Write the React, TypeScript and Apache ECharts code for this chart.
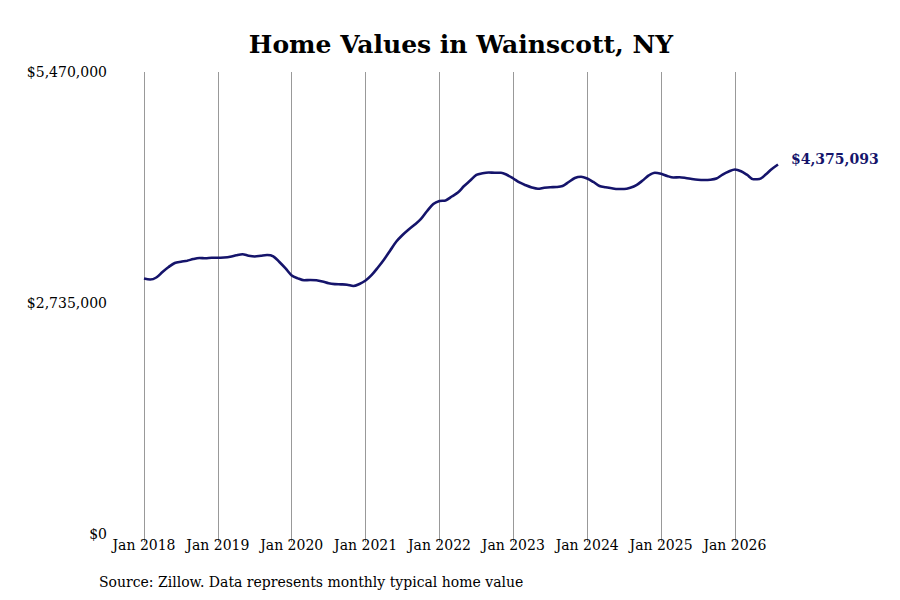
import React, { useEffect, useRef } from "react";
import * as echarts from "echarts";

const years = [2018, 2019, 2020, 2021, 2022, 2023, 2024, 2025, 2026];
const monthNames = ["Jan", "Feb", "Mar", "Apr", "May", "Jun", "Jul", "Aug", "Sep", "Oct", "Nov", "Dec"];

const homeValues = [
  3025000, 3013000, 3037000, 3102000, 3161000, 3209000, 3224000, 3235000, 3256000, 3268000, 3264000, 3270000,
  3270000, 3274000, 3283000, 3300000, 3312000, 3295000, 3286000, 3295000, 3303000, 3288000, 3220000, 3144000,
  3061000, 3027000, 3004000, 3007000, 3005000, 2990000, 2968000, 2958000, 2956000, 2952000, 2936000, 2960000,
  3001000, 3067000, 3155000, 3250000, 3357000, 3463000, 3540000, 3605000, 3664000, 3730000, 3824000, 3907000,
  3943000, 3949000, 3996000, 4043000, 4120000, 4185000, 4251000, 4271000, 4280000, 4277000, 4277000, 4251000,
  4209000, 4162000, 4130000, 4103000, 4088000, 4099000, 4106000, 4108000, 4120000, 4168000, 4215000, 4230000,
  4209000, 4168000, 4120000, 4105000, 4093000, 4085000, 4085000, 4100000, 4130000, 4185000, 4245000, 4278000,
  4265000, 4239000, 4221000, 4223000, 4215000, 4203000, 4194000, 4191000, 4194000, 4209000, 4256000, 4292000,
  4316000, 4295000, 4251000, 4200000, 4203000, 4256000, 4322000, 4375093,
];

const categories: string[] = [];
years.forEach((y) => monthNames.forEach((m) => categories.push(`${m} ${y}`)));
const months = categories.slice(0, homeValues.length);

const yMax = 5470000;
const yInterval = 2735000;
const titleText = "Home Values in Wainscott, NY";
const sourceText = "Source: Zillow. Data represents monthly typical home value";

const FONT = "'DejaVu Serif', serif";
const fmt = (v: number) => "$" + Math.round(v).toLocaleString("en-US");

export default function App() {
  const ref = useRef<HTMLDivElement>(null);
  useEffect(() => {
    if (!ref.current) return;
    const chart = echarts.init(ref.current, null, { renderer: "svg" });
    chart.setOption({
      animation: false,
      backgroundColor: "#ffffff",
      grid: { left: 144, right: 122, top: 72, bottom: 66, containLabel: false },
      graphic: [
        {
          type: "text",
          x: 461,
          y: 44,
          style: {
            text: titleText,
            textAlign: "center",
            textVerticalAlign: "middle",
            fontFamily: FONT,
            fontWeight: "bold",
            fontSize: 25,
            fill: "#000000",
          },
        },
        {
          type: "text",
          x: 99,
          y: 582,
          style: {
            text: sourceText,
            textAlign: "left",
            textVerticalAlign: "middle",
            fontFamily: FONT,
            fontSize: 14,
            fill: "#000000",
          },
        },
      ],
      xAxis: {
        type: "category",
        data: months,
        boundaryGap: false,
        axisLine: { show: false },
        axisTick: { show: true, interval: 11, length: 8, lineStyle: { color: "#999999" } },
        splitLine: { show: true, interval: 11, lineStyle: { color: "#999999", width: 1 } },
        axisLabel: {
          interval: 11,
          margin: 4,
          fontFamily: FONT,
          fontSize: 14,
          color: "#000000",
        },
      },
      yAxis: {
        type: "value",
        min: 0,
        max: yMax,
        interval: yInterval,
        axisLine: { show: false },
        axisTick: { show: false },
        splitLine: { show: false },
        axisLabel: {
          margin: 37,
          fontFamily: FONT,
          fontSize: 14,
          color: "#000000",
          formatter: (v: number) => fmt(v),
        },
      },
      series: [
        {
          type: "line",
          data: homeValues,
          smooth: 0.3,
          symbol: "none",
          lineStyle: { color: "#15146b", width: 2.6 },
          endLabel: {
            show: true,
            distance: 13,
            offset: [0, -5],
            formatter: (p: any) => fmt(p.value),
            fontFamily: FONT,
            fontWeight: "bold",
            fontSize: 14,
            color: "#15146b",
          },
        },
      ],
    });
    return () => chart.dispose();
  }, []);
  return (
    <div
      ref={ref}
      style={{ position: "fixed", left: 0, top: 0, width: 900, height: 600 }}
    />
  );
}
